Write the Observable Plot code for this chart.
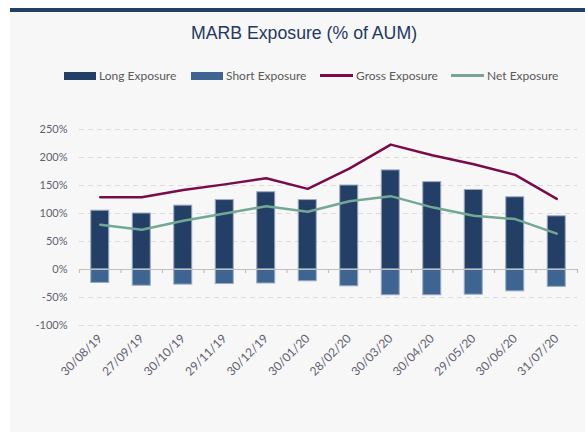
<!DOCTYPE html>
<html><head><meta charset="utf-8">
<script src="https://cdn.jsdelivr.net/npm/d3@7"></script>
<script src="https://cdn.jsdelivr.net/npm/@observablehq/plot@0.6"></script>
<style>
body{margin:0;background:#fff;}
#page{position:relative;width:585px;height:432px;overflow:hidden;background:#fff;}
#panel{position:absolute;left:10px;top:8px;width:575px;height:424px;background:#f7f7f7;border-top:4px solid #243f66;box-sizing:border-box;}
#title{position:absolute;left:0;width:608px;top:25px;text-align:center;font:17.7px/17.7px "Liberation Sans",Arial,sans-serif;color:#1f3864;}
.leg{position:absolute;top:68px;height:15px;display:flex;align-items:center;font:12px/15px Lato,sans-serif;color:#595959;white-space:nowrap;}
.sw{width:32px;height:8px;margin-right:3px;}
.ln{width:33px;height:2.5px;margin-right:3px;}
#chart{position:absolute;left:0;top:100px;}
</style></head>
<body><div id="page"><div id="panel"></div>
<div id="title">MARB Exposure (% of AUM)</div>
<div id="legend"></div>
<div id="chart"></div></div>
<script>
const dates = ["30/08/19","27/09/19","30/10/19","29/11/19","30/12/19","30/01/20","28/02/20","30/03/20","30/04/20","29/05/20","30/06/20","31/07/20"];
const longExp  = [105, 100, 114, 124, 138, 124, 150, 177, 156, 142, 129, 95];
const shortExp = [-24, -29, -27, -26, -25, -21, -30, -46, -46, -45, -39, -31];
const grossExp = [129, 129, 142, 152, 163, 144, 180, 223, 204, 188, 169, 126];
const netExp   = [80, 71, 87, 100, 113, 103, 122, 131, 111, 96, 90, 64];
const yTicks = [-100, -50, 0, 50, 100, 150, 200, 250];
const seriesNames = ["Long Exposure","Short Exposure","Gross Exposure","Net Exposure"];
const colors = {long:"#243f66", short:"#3e6591", gross:"#7a0b4b", net:"#72a894"};

// legend
const legPos = [64,191,320,451];
const legend = document.getElementById("legend");
seriesNames.forEach((n,i)=>{
  const d = document.createElement("div");
  d.className = "leg"; d.style.left = legPos[i]+"px";
  const s = document.createElement("div");
  const c = [colors.long, colors.short, colors.gross, colors.net][i];
  s.className = i < 2 ? "sw" : "ln"; s.style.background = c;
  d.appendChild(s);
  d.appendChild(document.createTextNode(n));
  legend.appendChild(d);
});

const rows = dates.map((d,i)=>({date:d, long:longExp[i], short:shortExp[i], gross:grossExp[i], net:netExp[i]}));
const width = 585, mL = 79, mR = 8;
const step = (width - mL - mR) / dates.length;
const grid = yTicks.filter(t => t !== 0);
const axisGray = "#bfbfbf";
const textGray = "#5f6170";

const chart = Plot.plot({
  width, height: 332,
  marginLeft: mL, marginRight: mR, marginTop: 29, marginBottom: 107,
  style: {fontFamily: "Lato, sans-serif", fontSize: "11px", background: "transparent", color: textGray},
  x: {domain: dates, paddingInner: 0.566, paddingOuter: 0.283, round: false, label: null},
  y: {domain: [-100, 250], label: null},
  marks: [
    Plot.ruleY(grid, {stroke: "#dcdcdc", strokeDasharray: "5,4"}),
    Plot.barY(rows, {x: "date", y: "long", fill: colors.long, stroke: "#9aabc2", strokeWidth: 1}),
    Plot.barY(rows, {x: "date", y: "short", fill: colors.short, stroke: "#9aabc2", strokeWidth: 1}),
    Plot.ruleY([0], {stroke: axisGray, strokeWidth: 1.2}),
    Plot.ruleX(dates, {x: d => d, y1: 0, y2: 0, insetBottom: -4, dx: -step/2, stroke: axisGray, strokeWidth: 1.2}),
    Plot.ruleX(dates.slice(-1), {x: d => d, y1: 0, y2: 0, insetBottom: -4, dx: step/2, stroke: axisGray, strokeWidth: 1.2}),
    Plot.line(rows, {x: "date", y: "gross", stroke: colors.gross, strokeWidth: 2.5}),
    Plot.line(rows, {x: "date", y: "net", stroke: colors.net, strokeWidth: 2.5}),
    Plot.axisY({ticks: yTicks, tickSize: 0, tickPadding: 12, tickFormat: d => d + "%", fill: textGray, fontSize: 11}),
    Plot.axisX({anchor: "bottom", tickSize: 0, tickPadding: 11, tickRotate: -45, fill: textGray, fontSize: 12})
  ]
});
document.getElementById("chart").appendChild(chart);
</script></body></html>
